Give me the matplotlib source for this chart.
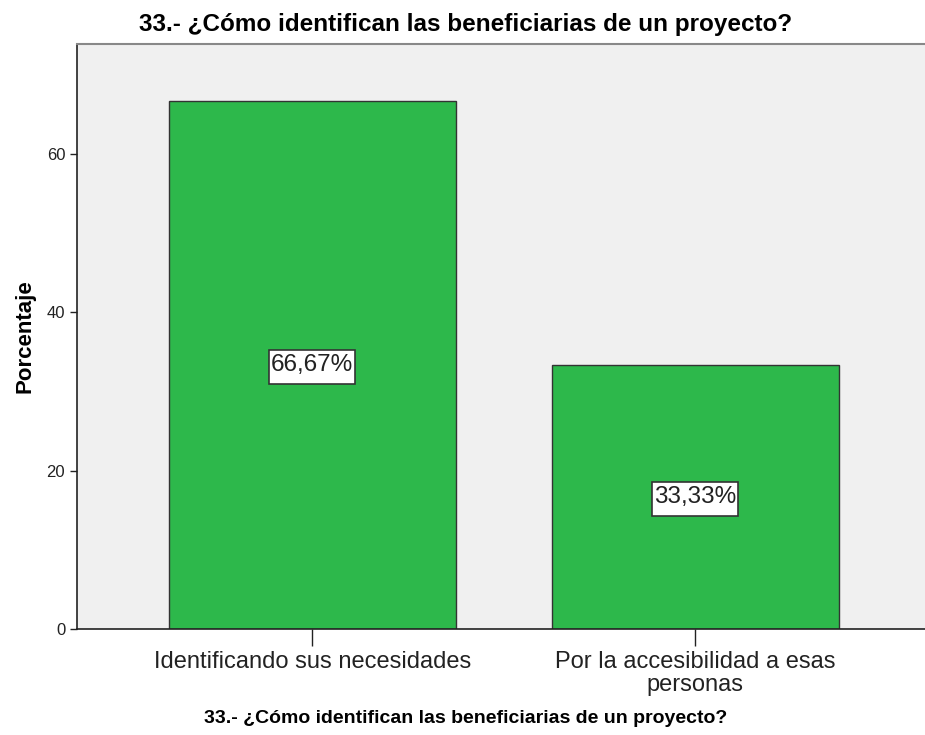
import matplotlib
matplotlib.use("Agg")
import matplotlib.pyplot as plt
from matplotlib.patches import Rectangle
from matplotlib.transforms import IdentityTransform

categorias = ["Identificando sus necesidades", "Por la accesibilidad a esas\npersonas"]
porcentajes = [66.67, 33.33]
etiquetas = ["66,67%", "33,33%"]
titulo = "33.- ¿Cómo identifican las beneficiarias de un proyecto?"

plt.rcParams['font.family'] = ['Liberation Sans', 'DejaVu Sans']

fig = plt.figure(figsize=(9.25, 7.35), dpi=100)
ax = fig.add_axes([0.0832, 0.1442, 0.9168, 0.7958])
ax.set_facecolor('#f0f0f0')

x = list(range(len(categorias)))
ax.bar(x, porcentajes, width=0.75, color='#2db84b', edgecolor='#333333', linewidth=1)

ax.set_xlim(-0.614, 1.6)
ax.set_ylim(0, 73.9)
ax.set_yticks([0, 20, 40, 60])
ax.set_xticks(x)
ax.set_xticklabels(categorias, fontsize=17, linespacing=1.05, color='#222222')
ax.tick_params(axis='y', labelsize=12, length=5, width=1, color='#222222', labelcolor='#222222')
ax.tick_params(axis='x', length=12, width=1, color='#222222', pad=4)

for lado in ['left', 'bottom']:
    ax.spines[lado].set_color('#222222')
    ax.spines[lado].set_linewidth(1.2)
ax.spines['top'].set_color('#888888')
ax.spines['top'].set_linewidth(1.5)
ax.spines['right'].set_visible(False)

ax.set_ylabel('Porcentaje', fontsize=16, fontweight='bold', labelpad=8)
fig.text(0.503, 0.966, titulo, ha='center', va='center', fontsize=17.5, fontweight='bold')
fig.text(0.503, 0.023, titulo, ha='center', va='center', fontsize=14, fontweight='bold')

# etiqueta con el porcentaje en el centro de cada barra
textos = []
for xi, val, txt in zip(x, porcentajes, etiquetas):
    t = ax.text(xi, val / 2, txt, ha='center', va='center', fontsize=17.5,
                color='#222222', zorder=5)
    textos.append(t)

# recuadro blanco algo mas alto que el texto
fig.canvas.draw()
for t in textos:
    bb = t.get_window_extent()
    caja = Rectangle((bb.x0 - 2, bb.y0 - 8), bb.width + 4, bb.height + 12,
                     transform=IdentityTransform(), facecolor='white',
                     edgecolor='#333333', linewidth=1.2, zorder=4)
    ax.add_artist(caja)

fig.savefig('out.png', dpi=100)
